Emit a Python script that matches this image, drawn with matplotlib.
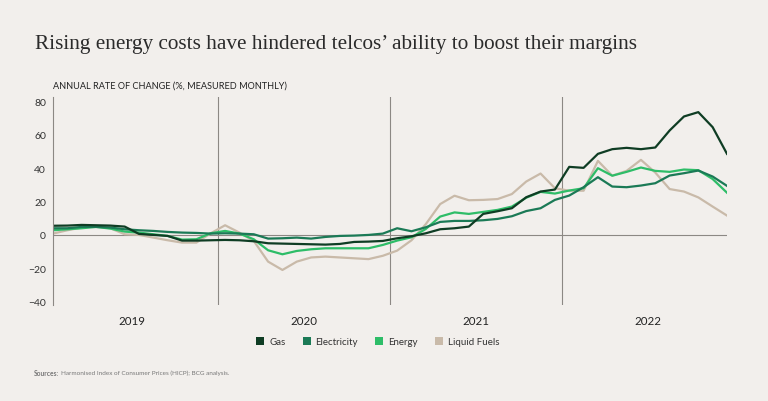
import matplotlib.pyplot as plt
from matplotlib.patches import Patch
import numpy as np

# monthly values, Jan 2019 - Dec 2022
gas = [5.5, 5.6, 6, 5.8, 5.6, 5, 0.6, 0, -0.6, -3.4, -3.4, -3.2,
       -3, -3.2, -3.8, -5, -5.2, -5.4, -5.6, -5.8, -5.4, -4.2, -4, -3.6,
       -2, -0.8, 1, 3.4, 4, 5, 12.6, 14.2, 16, 22.6, 26, 27.2,
       40.8, 40.2, 48.6, 51.4, 52.2, 51.4, 52.4, 62.6, 71, 73.6, 64.6, 48.6]
electricity = [4, 4, 4.8, 4.8, 4.4, 3.4, 2.8, 2.4, 1.8, 1.4, 1.2, 0.8,
               1, 0.8, 0.4, -2.2, -2, -1.6, -2.2, -1.2, -0.6, -0.4, 0, 0.8,
               4, 2.2, 4.6, 7.8, 8.4, 8.4, 8.8, 9.6, 11.2, 14.3, 16, 21,
               23.6, 28.6, 34.6, 29, 28.6, 29.6, 31, 35.6, 37, 38.6, 35, 29.4]
energy = [2.8, 3.4, 4, 4.8, 3.8, 2, 1.4, 0.4, -0.6, -2.8, -2.6, 1,
          2.4, 0.8, -2.6, -9.2, -11.6, -9.6, -8.6, -8, -8, -8, -8, -6,
          -3.4, -1.4, 3.6, 11, 13.5, 12.6, 13.8, 15, 17, 22.3, 25.8, 24.8,
          26.6, 28, 40, 35.5, 37.8, 40.4, 38.4, 37.8, 39.2, 38.8, 33.5, 25.3]
liquid_fuels = [0.8, 2.8, 4.4, 5.2, 4, 0.4, 0, -1.6, -3.2, -4.6, -4.6, 1,
                5.8, 1.4, -3.6, -16, -21, -16, -13.5, -13, -13.5, -14, -14.5, -12.5,
                -9.4, -3.2, 6.5, 18.5, 23.5, 20.8, 21, 21.5, 24.5, 32, 36.8, 28,
                26.5, 26.5, 44.4, 35.5, 38.4, 45, 37.4, 27.5, 26, 22.5, 17, 11.6]
years = ["2019", "2020", "2021", "2022"]
yticks = [-40, -20, 0, 20, 40, 60, 80]

bg = "#f2efec"
colors = {"Gas": "#0f3d24", "Electricity": "#1b7a56",
          "Energy": "#2ebd68", "Liquid Fuels": "#c9baa9"}

plt.rcParams["font.family"] = ["Lato", "DejaVu Sans"]

fig = plt.figure(figsize=(7.68, 4.02), dpi=100, facecolor=bg)
ax = fig.add_axes([0.069, 0.2388, 0.8776, 0.5167], facecolor=bg)

months = np.arange(len(gas))
# draw liquid fuels first so the greens sit on top
ax.plot(months, liquid_fuels, color=colors["Liquid Fuels"], lw=1.6)
ax.plot(months, energy, color=colors["Energy"], lw=1.6)
ax.plot(months, electricity, color=colors["Electricity"], lw=1.6)
ax.plot(months, gas, color=colors["Gas"], lw=1.6)

ax.axhline(0, color="#8c8884", lw=0.8, zorder=0)
for i in range(1, len(years)):
    ax.axvline(12 * i - 0.5, color="#8c8884", lw=0.8, zorder=0)

ax.set_xlim(0, 47)
ax.set_ylim(-42, 82.5)
for s in ["top", "right", "bottom"]:
    ax.spines[s].set_visible(False)
ax.spines["left"].set_color("#8c8884")
ax.spines["left"].set_linewidth(0.8)

ax.set_yticks(yticks)
ax.set_yticklabels([str(v).replace("-", "\u2212") for v in yticks])
ax.tick_params(axis="y", length=0, pad=5, labelsize=7.5, labelcolor="#333333")
ax.set_xticks([12 * i + 5.5 for i in range(len(years))])
ax.set_xticklabels(years)
ax.tick_params(axis="x", length=0, pad=7, labelsize=8.3, labelcolor="#222222")

fig.text(0.069, 0.786, "ANNUAL RATE OF CHANGE (%, MEASURED MONTHLY)",
         fontsize=6.6, color="#222222", va="center")
fig.text(0.045, 0.89,
         "Rising energy costs have hindered telcos\u2019 ability to boost their margins",
         fontsize=15.3, family=["Liberation Serif", "DejaVu Serif"],
         color="#2b2b2b", va="center")

handles = [Patch(facecolor=c, edgecolor="none", label=k) for k, c in colors.items()]
fig.legend(handles=handles, loc="center", bbox_to_anchor=(0.492, 0.147), ncol=4,
           frameon=False, fontsize=7, handlelength=0.8, handleheight=0.8,
           handletextpad=0.5, columnspacing=1.8, labelcolor="#333333")

fig.text(0.044, 0.072, "Sources:", fontsize=4.8, weight="bold", color="#777777", va="center")
fig.text(0.0795, 0.072, "Harmonised Index of Consumer Prices (HICP); BCG analysis.",
         fontsize=4.6, color="#777777", va="center")

fig.savefig("out.png", dpi=100, facecolor=bg)
